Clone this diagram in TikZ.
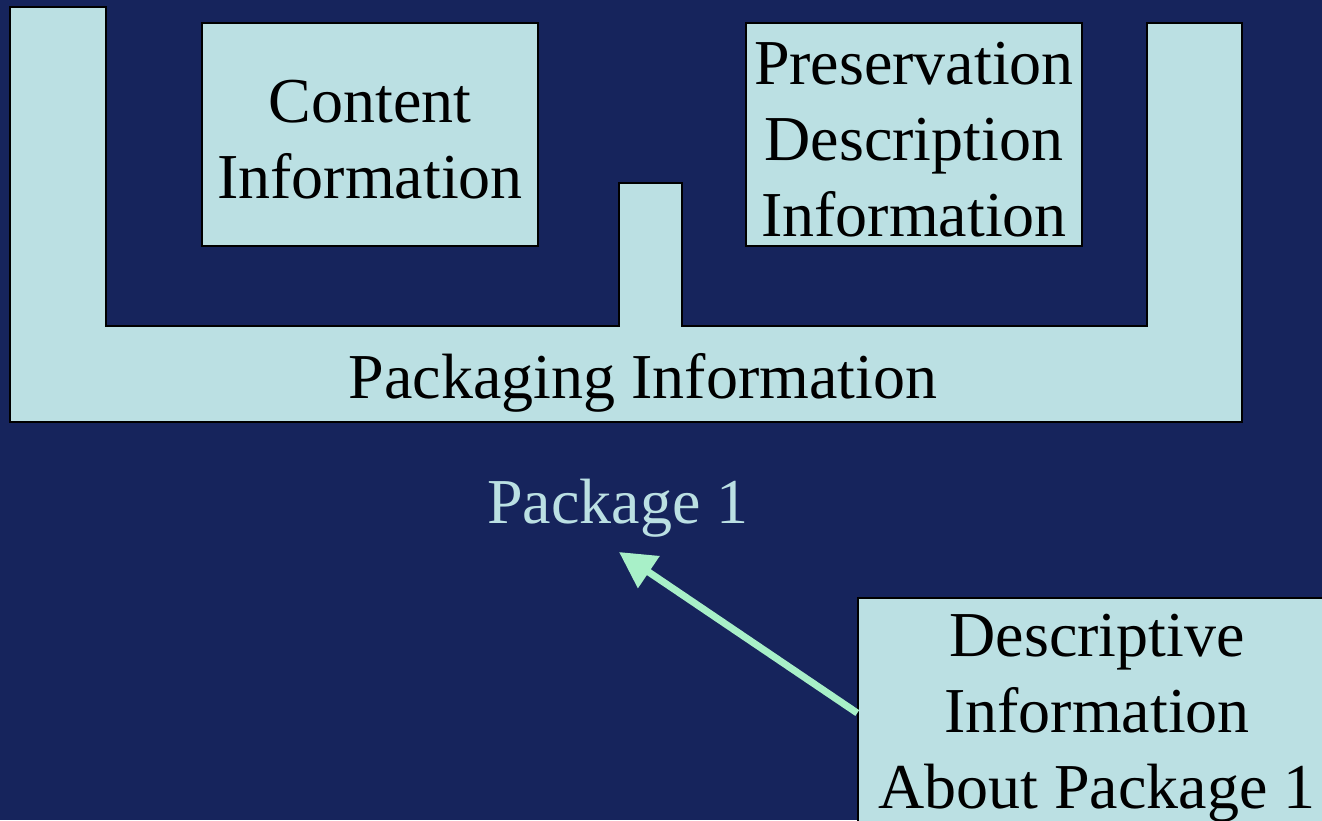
\documentclass[tikz,border=0pt]{standalone}
\usepackage{fontspec}
\setmainfont{Liberation Serif}
\usetikzlibrary{arrows.meta}
\definecolor{navy}{RGB}{22,36,92}
\definecolor{paleblue}{RGB}{187,224,227}
\definecolor{palegreen}{RGB}{168,240,200}

\begin{document}
\begin{tikzpicture}[x=1pt,y=-1pt,
  bigfont/.style={font=\fontsize{64}{76}\selectfont},
  infobox/.style={draw=black,line width=1.5pt,fill=paleblue,inner sep=0pt,
    label={[bigfont,align=center,yshift=-5pt]center:#1}},
  >={Triangle[length=36pt,width=37pt]}]
\useasboundingbox (0,0) rectangle (1322,820);
\fill[navy] (0,0) rectangle (1322,820);
\clip (0,0) rectangle (1322,820);
\draw[fill=paleblue,line width=1.5pt] (10,7) -- (106,7) -- (106,326) -- (619,326)
  -- (619,183) -- (682,183) -- (682,326) -- (1147,326) -- (1147,23) -- (1242,23)
  -- (1242,422) -- (10,422) -- cycle;
\node[bigfont] (pack) at (643,383) {Packaging Information};
\node[infobox={Content\\Information},minimum width=336pt,minimum height=223pt]
  (content) at (370,134.5) {};
\node[infobox={Preservation\\Description\\Information},minimum width=336pt,
  minimum height=223pt] (pdi) at (914,134.5) {};
\node[bigfont,text=paleblue] (pkg) at (618,508) {Package 1};
\node[infobox={Descriptive\\Information\\About Package 1},minimum width=478pt,
  minimum height=230pt] (desc) at (1097,713) {};
\coordinate (tip) at (619,552);
\draw[->,palegreen,line width=7pt] (desc.west) -- (tip);
\end{tikzpicture}
\end{document}
